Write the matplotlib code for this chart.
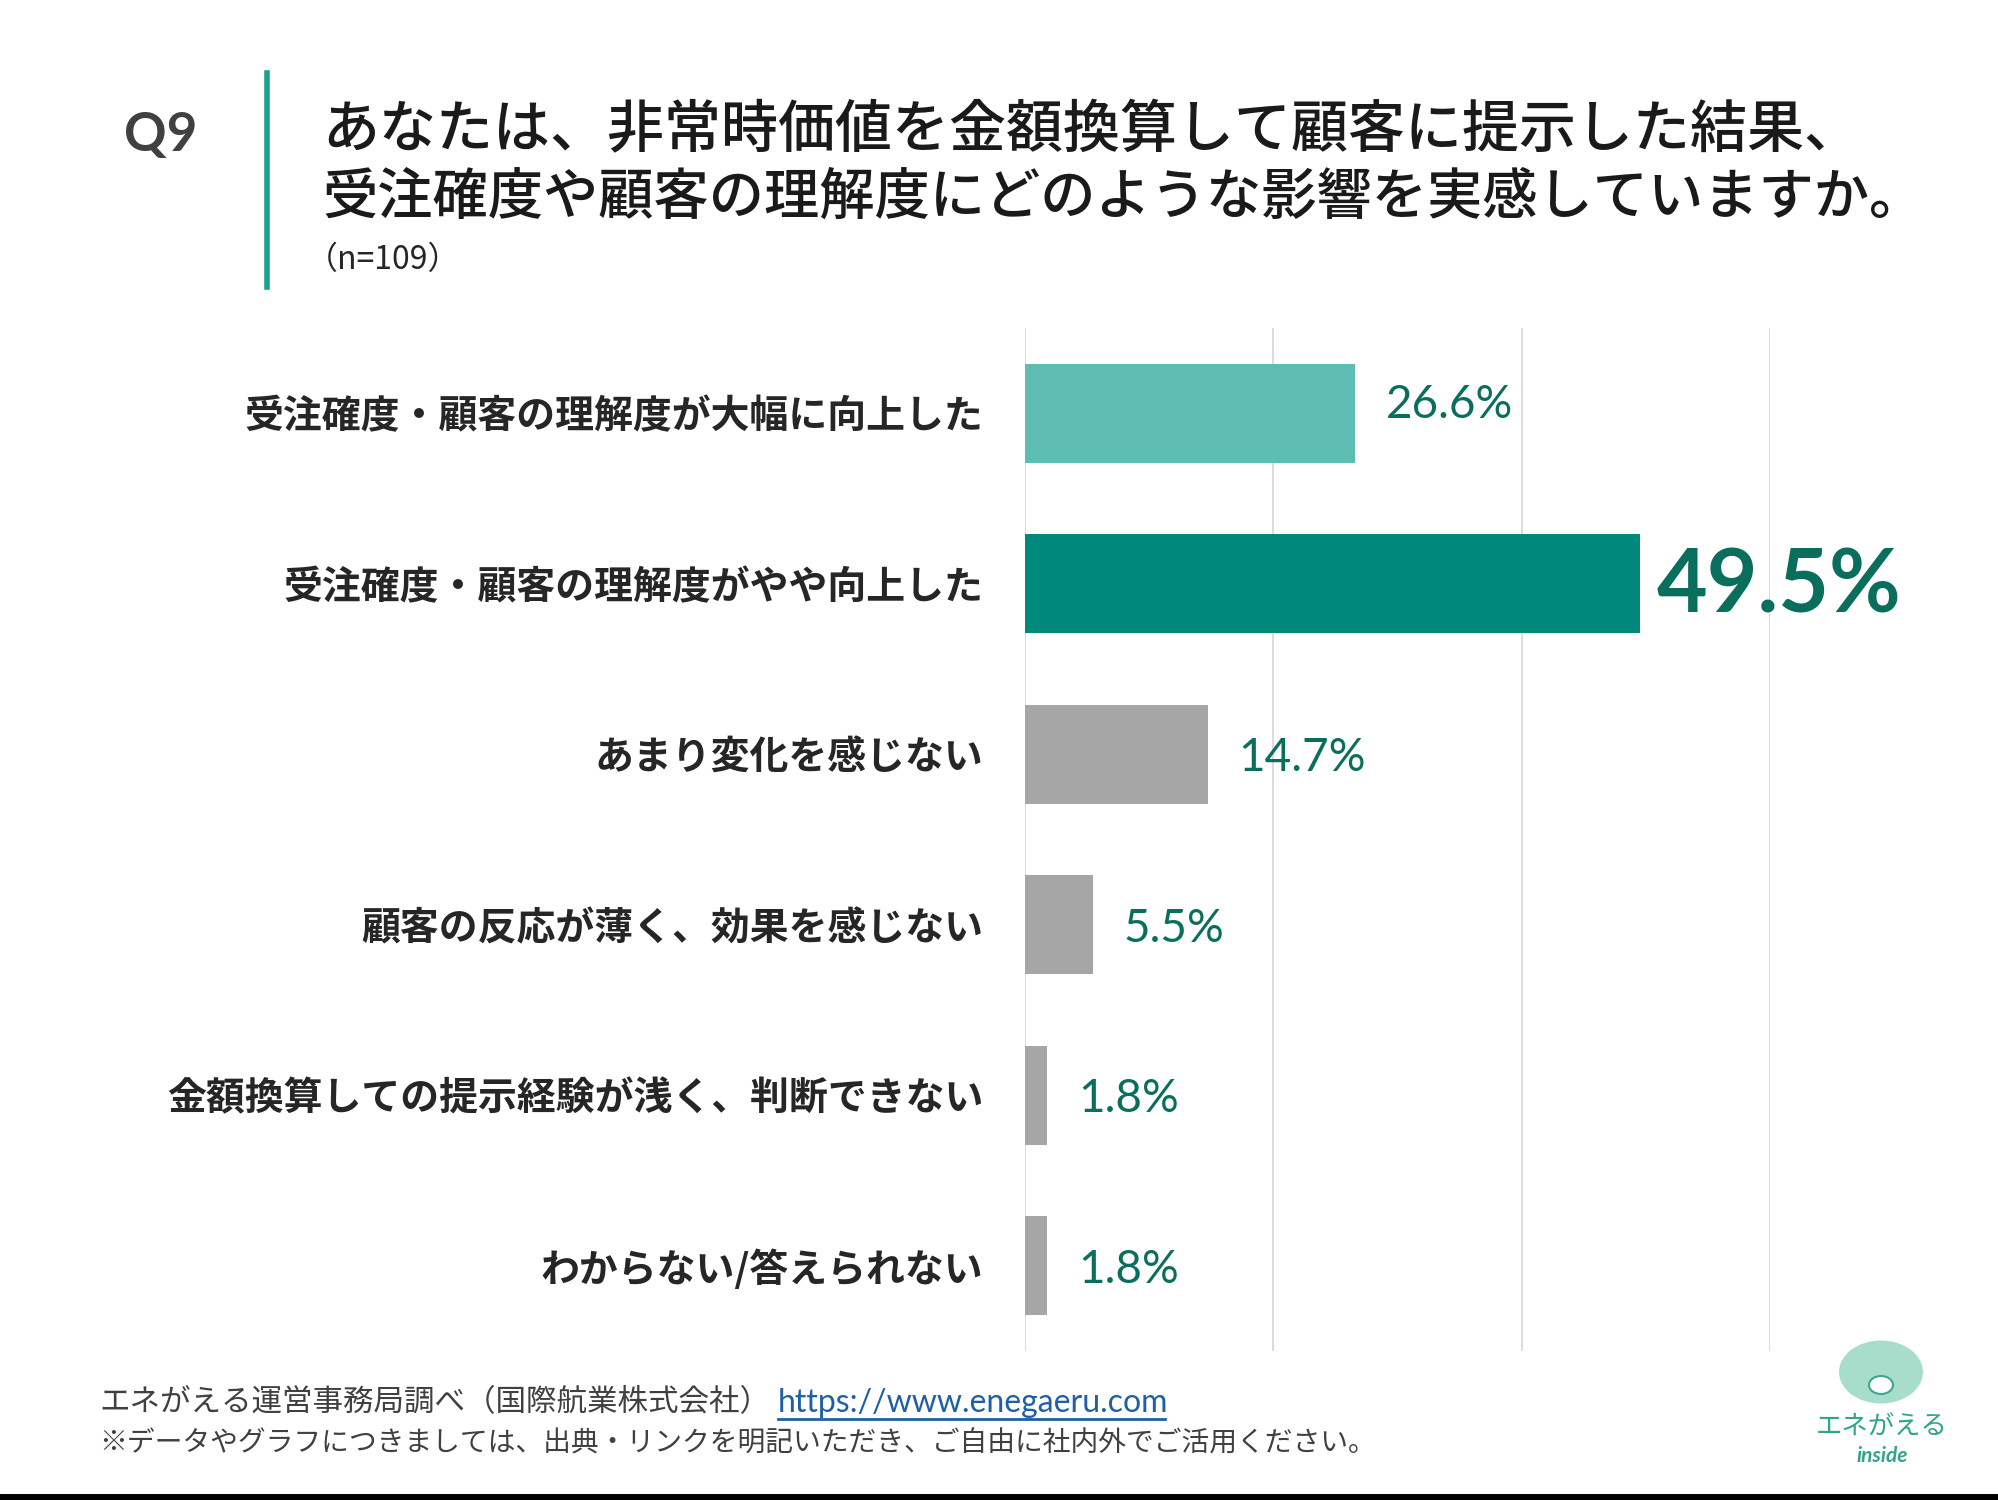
import matplotlib.pyplot as plt
from matplotlib.patches import Circle

plt.rcParams['font.family'] = ['Noto Sans CJK JP', 'DejaVu Sans']

# data
categories = [
    '受注確度・顧客の理解度が大幅に向上した',
    '受注確度・顧客の理解度がやや向上した',
    'あまり変化を感じない',
    '顧客の反応が薄く、効果を感じない',
    '金額換算しての提示経験が浅く、判断できない',
    'わからない/答えられない',
]
values = [26.6, 49.5, 14.7, 5.5, 1.8, 1.8]
bar_colors = ['#5DBDB3', '#00897B', '#A6A6A6', '#A6A6A6', '#A6A6A6', '#A6A6A6']
label_texts = ['26.6%', '49.5%', '14.7%', '5.5%', '1.8%', '1.8%']

W, H = 1999, 1500
fig = plt.figure(figsize=(W / 100, H / 100), dpi=100)
fig.patch.set_facecolor('white')


def fx(x):
    return x / W


def fy(y):
    return 1 - y / H


ax = fig.add_axes([fx(1025), fy(1351), fx(1770) - fx(1025), (1351 - 328) / H])
ypos = list(range(len(categories)))
ax.barh(ypos, values, height=0.58, color=bar_colors, zorder=3)
ax.set_xlim(0, 60)
ax.set_ylim(len(categories) - 0.5, -0.5)
ax.set_xticks([0, 20, 40, 60])
ax.set_xticklabels([])
ax.grid(axis='x', color='#D9D9D9', lw=1.3, zorder=0)
ax.tick_params(axis='both', length=0)
for s in ax.spines.values():
    s.set_visible(False)
ax.set_yticks(ypos)
ax.set_yticklabels(categories, fontsize=28, fontweight='bold', color='#262626')
ax.tick_params(axis='y', pad=30)

for i, (v, t) in enumerate(zip(values, label_texts)):
    if i == 1:
        ax.annotate(t, xy=(v, i), xytext=(12, -2), textcoords='offset points',
                    ha='left', va='center', fontsize=63, fontweight='bold',
                    color='#0A6E5C', family=['Lato', 'DejaVu Sans'])
    else:
        ax.annotate(t, xy=(v, i), xytext=(22, 6 if i == 0 else -3), textcoords='offset points',
                    ha='left', va='center', fontsize=33,
                    color='#0A6E5C', family=['Lato', 'DejaVu Sans'])

# header
fig.text(fx(124), fy(136), 'Q9', fontsize=38, fontweight='bold', color='#404040',
         ha='left', va='center', family=['Lato', 'DejaVu Sans'])
fig.add_artist(plt.Line2D([fx(267), fx(267)], [fy(73), fy(287)], color='#1AA38F', lw=4))
fig.text(fx(322), fy(131), 'あなたは、非常時価値を金額換算して顧客に提示した結果、',
         fontsize=41, fontweight='medium', color='#1A1A1A', ha='left', va='center')
fig.text(fx(322), fy(198), '受注確度や顧客の理解度にどのような影響を実感していますか。',
         fontsize=39.8, fontweight='medium', color='#1A1A1A', ha='left', va='center')
fig.text(fx(306), fy(260), '（n=109）', fontsize=23, color='#262626', ha='left', va='center')

# footer
fig.text(fx(99), fy(1403), 'エネがえる運営事務局調べ（国際航業株式会社）',
         fontsize=22, color='#404040', ha='left', va='center')
fig.text(fx(778), fy(1403), 'https://www.enegaeru.com',
         fontsize=23, color='#1F5FA8', ha='left', va='center',
         family=['Lato', 'DejaVu Sans'])
fig.add_artist(plt.Line2D([fx(778), fx(1165)], [fy(1419), fy(1419)], color='#1F5FA8', lw=2))
fig.text(fx(99), fy(1443), '※データやグラフにつきましては、出典・リンクを明記いただき、ご自由に社内外でご活用ください。',
         fontsize=20, color='#404040', ha='left', va='center')

# logo
fig.add_artist(Circle((fx(1881), fy(1372)), 0.021, transform=fig.transFigure,
                      facecolor='#A8DCCB', edgecolor='none'))
fig.add_artist(Circle((fx(1881), fy(1385)), 0.006, transform=fig.transFigure,
                      facecolor='white', edgecolor='#3BA88F', lw=1.5))
fig.text(fx(1882), fy(1427), 'エネがえる', fontsize=19, color='#2FA58C', ha='center', va='center')
fig.text(fx(1882), fy(1456), 'inside', fontsize=15, color='#2FA58C', ha='center', va='center',
         fontstyle='italic', fontweight='bold', family=['Lato', 'DejaVu Sans'])

# bottom border
fig.add_artist(plt.Line2D([0, 1], [fy(1497), fy(1497)], color='black', lw=5))

fig.savefig('out.png', dpi=100, facecolor='white')
